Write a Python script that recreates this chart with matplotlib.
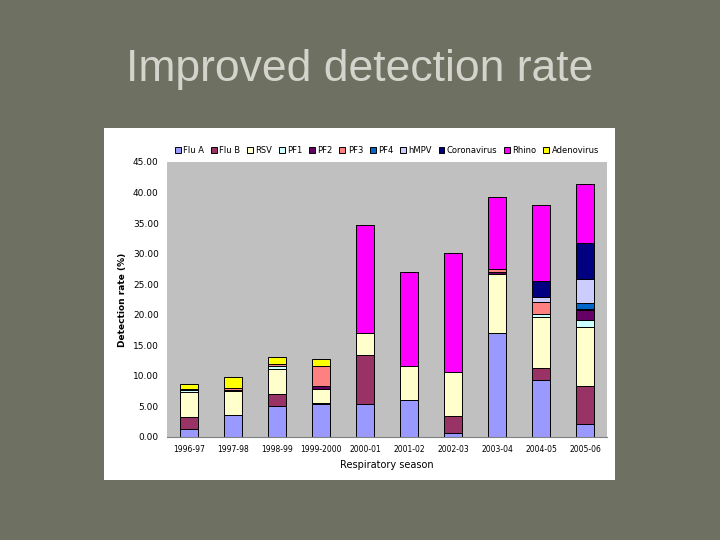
import matplotlib
matplotlib.use("Agg")
import matplotlib.pyplot as plt
import numpy as np

seasons = ["1996-97", "1997-98", "1998-99", "1999-2000", "2000-01", "2001-02",
           "2002-03", "2003-04", "2004-05", "2005-06"]
viruses = ["Flu A", "Flu B", "RSV", "PF1", "PF2", "PF3", "PF4", "hMPV", "Coronavirus", "Rhino", "Adenovirus"]
flu_a = [1.3, 3.6, 5.0, 5.4, 5.4, 6.0, 0.6, 17.1, 9.35, 2.1]
flu_b = [2.0, 0.0, 2.1, 0.1, 8.1, 0.0, 2.8, 0.0, 1.95, 6.2]
rsv = [4.1, 3.9, 4.1, 2.4, 3.6, 5.7, 7.2, 9.6, 8.3, 9.7]
pf1 = [0.3, 0.0, 0.4, 0.0, 0.0, 0.0, 0.0, 0.0, 0.45, 1.2]
pf2 = [0.1, 0.2, 0.1, 0.5, 0.0, 0.0, 0.0, 0.3, 0.0, 1.6]
pf3 = [0.0, 0.4, 0.3, 3.3, 0.0, 0.0, 0.0, 0.5, 2.05, 0.2]
pf4 = [0.0, 0.0, 0.0, 0.0, 0.0, 0.0, 0.0, 0.0, 0.0, 0.9]
hmpv = [0.0, 0.0, 0.0, 0.0, 0.0, 0.0, 0.0, 0.0, 0.8, 4.0]
corona = [0.0, 0.0, 0.0, 0.0, 0.0, 0.0, 0.0, 0.0, 2.7, 5.9]
rhino = [0.0, 0.0, 0.0, 0.0, 17.6, 15.3, 19.5, 11.7, 12.3, 9.55]
adeno = [0.8, 1.8, 1.1, 1.1, 0.0, 0.0, 0.0, 0.0, 0.0, 0.0]
series = [flu_a, flu_b, rsv, pf1, pf2, pf3, pf4, hmpv, corona, rhino, adeno]
colors = ["#9999FF", "#993366", "#FFFFCC", "#CCFFFF", "#660066", "#FF8080",
          "#0066CC", "#CCCCFF", "#000080", "#FF00FF", "#FFFF00"]

fig = plt.figure(figsize=(7.2, 5.4), dpi=100)
fig.patch.set_facecolor("#6E7062")
fig.text(0.5, 0.872, "Improved detection rate", ha="center", va="center",
         fontsize=32, color="#D4D4CC", family="Liberation Sans")

box = fig.add_axes([104/720, 1-480/540, 511/720, 352/540])
box.set_facecolor("white")
box.set_xticks([]); box.set_yticks([])
for s in box.spines.values():
    s.set_visible(False)

ax = fig.add_axes([167/720, 103/540, 440/720, 275/540])
ax.set_facecolor("#C0C0C0")
x = np.arange(len(seasons))
bottom = np.zeros(len(seasons))
for name, vals, c in zip(viruses, series, colors):
    v = np.array(vals)
    ax.bar(x, v, 0.42, bottom=bottom, color=c, edgecolor="black", linewidth=0.7, label=name)
    bottom += v
ax.set_xlim(-0.5, len(seasons) - 0.5)
ax.set_ylim(0, 45)
ax.set_yticks(np.arange(0, 46, 5))
ax.set_yticklabels([f"{t:.2f}" for t in np.arange(0, 46, 5)], fontsize=6.5)
ax.set_xticks(x)
ax.set_xticklabels(seasons, fontsize=5.5)
ax.tick_params(length=0, pad=6)
for s in ["top", "right", "left"]:
    ax.spines[s].set_visible(False)
ax.spines["bottom"].set_color("#808080")
ax.set_xlabel("Respiratory season", fontsize=7)
ax.set_ylabel("Detection rate (%)", fontsize=6.5, fontweight="bold")
ax.legend(loc="lower center", bbox_to_anchor=(0.5, 1.0), ncol=11, fontsize=6,
          frameon=False, handlelength=0.7, handletextpad=0.3, columnspacing=0.8,
          borderaxespad=0.4)
fig.savefig("out.png", dpi=100, facecolor=fig.get_facecolor())
